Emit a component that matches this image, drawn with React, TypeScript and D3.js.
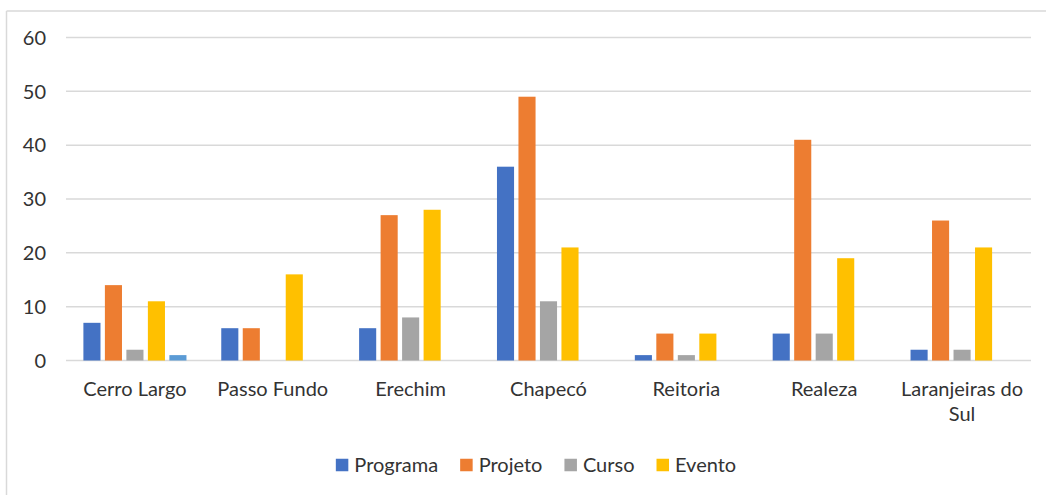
import React from "react";
import * as d3 from "d3";

const categories = ["Cerro Largo", "Passo Fundo", "Erechim", "Chapecó", "Reitoria", "Realeza", "Laranjeiras do Sul"];
const seriesNames = ["Programa", "Projeto", "Curso", "Evento", "Outro"];
const programa = [7, 6, 6, 36, 1, 5, 2];
const projeto = [14, 6, 27, 49, 5, 41, 26];
const curso = [2, 0, 8, 11, 1, 5, 2];
const evento = [11, 16, 28, 21, 5, 19, 21];
const outro = [1, 0, 0, 0, 0, 0, 0];
const yTicks = [0, 10, 20, 30, 40, 50, 60];
const legendNames = ["Programa", "Projeto", "Curso", "Evento"];

const colors = ["#4472C4", "#ED7D31", "#A5A5A5", "#FFC000", "#5B9BD5"];
const values = [programa, projeto, curso, evento, outro];

const W = 1046;
const H = 495;
const FONT = "Lato, 'Open Sans', sans-serif";
const FS = 20;

function measure(text: string): number {
  const c = document.createElement("canvas").getContext("2d");
  if (!c) return text.length * 10;
  c.font = `${FS}px Lato`;
  return c.measureText(text).width;
}

export default function App() {
  const x0 = d3.scaleBand<string>().domain(categories).range([66, 1031]).paddingInner(0).paddingOuter(0);
  const x1 = d3.scaleBand<string>().domain(seriesNames).range([0, x0.bandwidth()]).paddingInner(0).paddingOuter(0.707);
  const y = d3.scaleLinear().domain([0, 60]).range([360.5, 37.5]);
  const inset = 2.2;

  const labelLines: Record<string, string[]> = {
    "Laranjeiras do Sul": ["Laranjeiras do", "Sul"],
  };

  const sq = 12.5;
  const gapSqText = 6;
  const gapItems = 22;
  const widths = legendNames.map((n) => sq + gapSqText + measure(n));
  const total = d3.sum(widths) + gapItems * (legendNames.length - 1);
  let lx = 536 - total / 2;
  const legendItems = legendNames.map((n, i) => {
    const item = { name: n, x: lx, color: colors[i] };
    lx += widths[i] + gapItems;
    return item;
  });

  return (
    <svg width={W} height={H} style={{ display: "block", position: "absolute", left: 0, top: 0 }} fontFamily={FONT}>
      <rect x={0} y={0} width={W} height={H} fill="#fff" />
      <line x1={6.5} y1={11} x2={1046} y2={11} stroke="#D9D9D9" strokeWidth={1.5} />
      <line x1={6.5} y1={11} x2={6.5} y2={495} stroke="#D9D9D9" strokeWidth={1.5} />
      {yTicks.map((t) => (
        <g key={t}>
          <line x1={66} x2={1031} y1={y(t)} y2={y(t)} stroke="#D9D9D9" strokeWidth={1.5} />
          <text x={46} y={y(t)} dy="0.36em" textAnchor="end" fontSize={FS} fill="#333">
            {t}
          </text>
        </g>
      ))}
      {categories.map((c, ci) => (
        <g key={c} transform={`translate(${x0(c)},0)`}>
          {seriesNames.map((s, si) => {
            const v = values[si][ci];
            if (!v) return null;
            return (
              <rect
                key={s}
                x={(x1(s) as number) + inset}
                width={x1.bandwidth() - 2 * inset}
                y={y(v)}
                height={y(0) - y(v)}
                fill={colors[si]}
              />
            );
          })}
        </g>
      ))}
      {categories.map((c) => {
        const lines = labelLines[c] || [c];
        const cx = (x0(c) as number) + x0.bandwidth() / 2;
        return (
          <text key={c} x={cx} y={389} textAnchor="middle" fontSize={FS} fill="#333">
            {lines.map((l, i) => (
              <tspan key={i} x={cx} dy={i === 0 ? "0.36em" : 25}>
                {l}
              </tspan>
            ))}
          </text>
        );
      })}
      {legendItems.map((it) => (
        <g key={it.name}>
          <rect x={it.x} y={465 - sq / 2} width={sq} height={sq} fill={it.color} />
          <text x={it.x + sq + gapSqText} y={465} dy="0.36em" fontSize={FS} fill="#333">
            {it.name}
          </text>
        </g>
      ))}
    </svg>
  );
}
